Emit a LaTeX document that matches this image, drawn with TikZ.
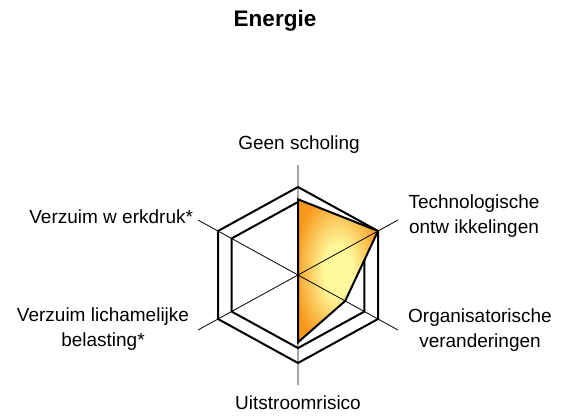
\documentclass[tikz,border=0pt]{standalone}
\usepackage{fontspec}
\setmainfont{Liberation Sans}
\usetikzlibrary{calc}
\definecolor{radarorange}{RGB}{247,152,28}
\definecolor{radaryellow}{RGB}{255,248,155}
\pgfdeclareradialshading{radarglow}{\pgfpoint{0bp}{0bp}}{%
	color(0bp)=(radaryellow); color(9bp)=(radaryellow); color(28bp)=(radarorange); color(50bp)=(radarorange)}
\NewDocumentCommand{\axisfont}{}{\fontsize{19}{25}\selectfont}
\tikzset{/RD/grid/.style={
	draw=black, line width=2pt, line join=miter
}}
\tikzset{/RD/axis/.style={
	draw=black, line width=0.8pt
}}
\tikzset{/RD/score/.style={
	shading=radarglow
}}
\tikzset{/RD/lbl/.style={
	font=\axisfont, inner sep=0, outer sep=0, align=center
}}

\begin{document}
\begin{tikzpicture}[x=1pt, y=-1pt]
				\useasboundingbox (0, 0) rectangle (562, 415);
				\coordinate (C) at (298, 275);
				\coordinate (o1) at (298, 187);
				\coordinate (o2) at (378, 231);
				\coordinate (o3) at (378, 319);
				\coordinate (o4) at (298, 363);
				\coordinate (o5) at (218, 319);
				\coordinate (o6) at (218, 231);
				\foreach \k in {1, ..., 6} {
					\coordinate (i\k) at ($(C)!0.83!(o\k)$);
					\coordinate (a\k) at ($(C)!1.25!(o\k)$);
				}
				\coordinate (d1) at ($(C)!0.86!(o1)$);
				\coordinate (d3) at ($(C)!0.59!(o3)$);
				\coordinate (d4) at ($(C)!0.765!(o4)$);
				\path[/RD/grid] (o1) -- (o2) -- (o3) -- (o4) -- (o5) -- (o6) -- cycle;
				\path[/RD/grid] (i1) -- (i2) -- (i3) -- (i4) -- (i5) -- (i6) -- cycle;
				\path[/RD/score] (d1) -- (o2) -- (d3) -- (d4) -- (C) -- cycle;
				\path[/RD/axis] (C) -- (a1) (C) -- (a2) (C) -- (a3) (C) -- (a4) (C) -- (a5) (C) -- (a6);
				\path[/RD/grid] (d1) -- (o2) -- (d3) -- (d4) -- (C) -- cycle;
				\path (275, 27) node[anchor=base, inner sep=0, font=\fontsize{22.5}{27}\selectfont\bfseries] (title) {Energie};
				\path (a1) ++ (1, -16) node[/RD/lbl, anchor=base] (scholing) {Geen scholing};
				\path (a2) ++ (76, -3.5) node[/RD/lbl] (techno) {Technologische\\ontw ikkelingen};
				\path (a3) ++ (82, 0.5) node[/RD/lbl] (organ) {Organisatorische\\veranderingen};
				\path (a4) ++ (0, 24.5) node[/RD/lbl, anchor=base] (uitstroom) {Uitstroomrisico};
				\path (a5) ++ (-95, -1) node[/RD/lbl] (lichamelijk) {Verzuim lichamelijke\\belasting*};
				\path (a6) ++ (-5, 3) node[/RD/lbl, anchor=base east] (werkdruk) {Verzuim w erkdruk*};
			\end{tikzpicture}
\end{document}
